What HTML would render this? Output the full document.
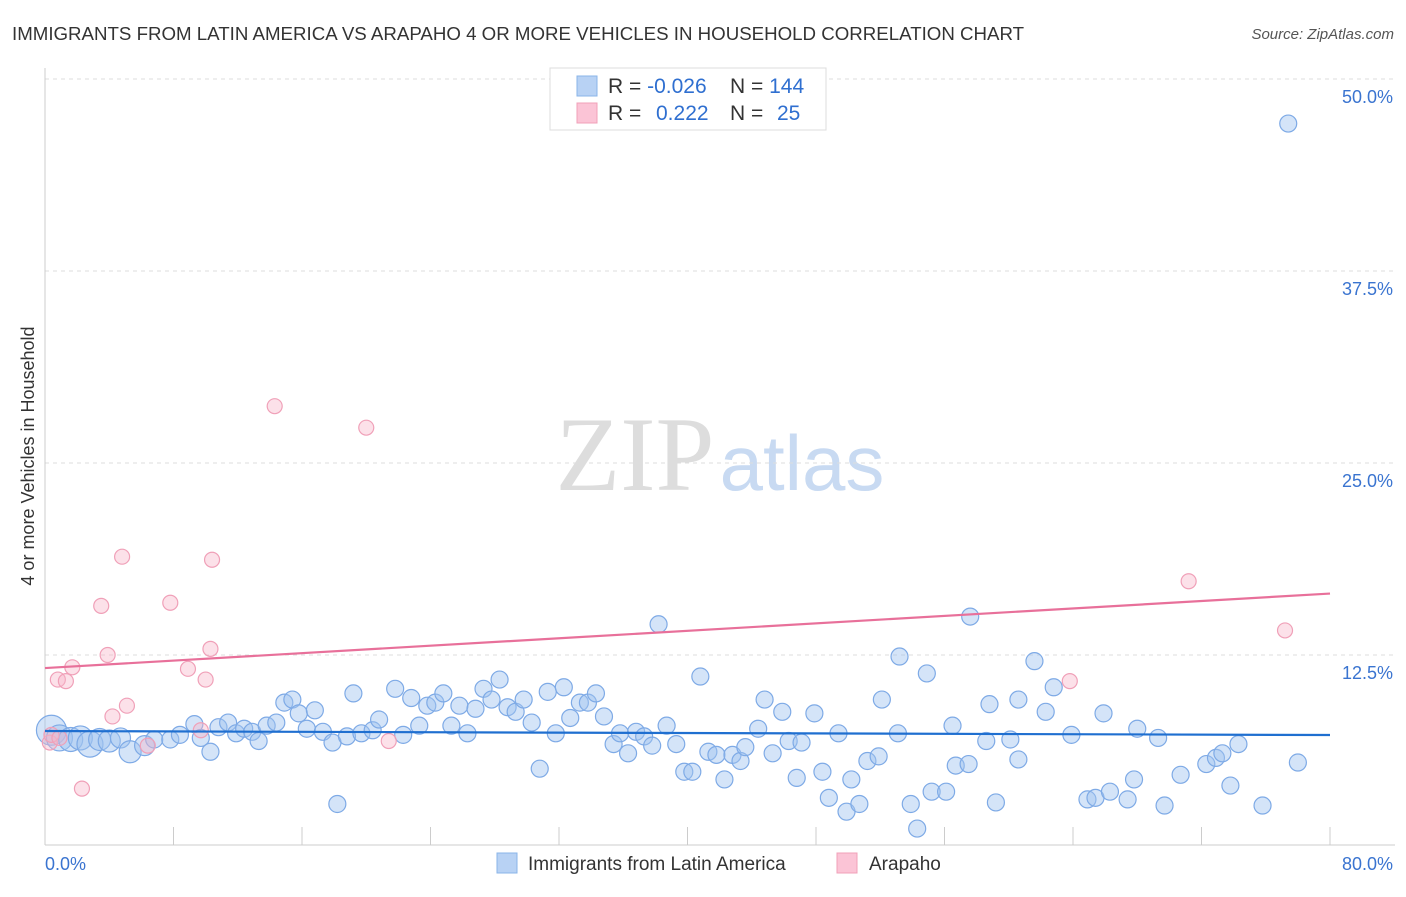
<!DOCTYPE html>
<html><head><meta charset="utf-8"><style>
body{margin:0;background:#fff;font-family:"Liberation Sans",sans-serif}
svg text{font-family:"Liberation Sans",sans-serif}
</style></head><body>
<svg id="c" width="1406" height="892" viewBox="0 0 1406 892">
<text x="12" y="40" font-size="18.7" fill="#333">IMMIGRANTS FROM LATIN AMERICA VS ARAPAHO 4 OR MORE VEHICLES IN HOUSEHOLD CORRELATION CHART</text>
<text x="1394" y="39" font-size="15" fill="#555" font-style="italic" text-anchor="end">Source: ZipAtlas.com</text>
<g>
<text x="635" y="490" font-size="106" fill="#ddd" text-anchor="middle" font-family="Liberation Serif" style="font-family:'Liberation Serif',serif">ZIP</text>
<text x="802" y="490" font-size="78" fill="#c8daf2" text-anchor="middle">atlas</text>
</g>
<g id="grid"></g>
<g id="axes"></g>
<g id="pts"></g>
<g id="trend"></g>
<text transform="translate(34,456) rotate(-90)" font-size="18" fill="#333" text-anchor="middle">4 or more Vehicles in Household</text>
<g>
<rect x="550" y="68" width="276" height="62" fill="#fff" stroke="#ddd"/>
<rect x="577" y="76" width="20" height="20" fill="#b8d2f4" stroke="#8ab4e8"/>
<rect x="577" y="103" width="20" height="20" fill="#fbc4d6" stroke="#f0a0b8"/>
<text x="608" y="93" font-size="21" fill="#333">R = <tspan fill="#2f6fd0">-0.026</tspan></text>
<text x="730" y="93" font-size="21" fill="#333">N = <tspan fill="#2f6fd0">144</tspan></text>
<text x="608" y="120" font-size="21" fill="#333">R = </text><text x="656" y="120" font-size="21" fill="#2f6fd0">0.222</text>
<text x="730" y="120" font-size="21" fill="#333">N = </text><text x="777" y="120" font-size="21" fill="#2f6fd0">25</text>
</g>
<g>
<rect x="497" y="853" width="20" height="20" fill="#b8d2f4" stroke="#8ab4e8"/>
<text x="528" y="870" font-size="19" fill="#333">Immigrants from Latin America</text>
<rect x="837" y="853" width="20" height="20" fill="#fbc4d6" stroke="#f0a0b8"/>
<text x="869" y="870" font-size="19" fill="#333">Arapaho</text>
</g>
</svg>
<script>
const yTicks=[12.5,25,37.5,50];
const yTickLabels=["12.5%","25.0%","37.5%","50.0%"];
const xTickVals=[0,8,16,24,32,40,48,56,64,72,80];
const xLabels=["0.0%","80.0%"];
const blueX=[0.4,0.9,1.6,2.2,2.8,3.4,4.0,4.7,5.3,6.2,6.8,7.8,8.4,9.3,9.7,10.3,10.8,11.4,11.9,12.4,12.9,13.3,13.8,14.4,14.9,15.4,15.8,16.3,16.8,17.3,17.9,18.2,18.8,19.2,19.7,20.4,20.8,21.8,22.3,22.8,23.3,23.8,24.3,24.8,25.3,25.8,26.3,26.8,27.3,27.8,28.3,28.8,29.3,29.8,30.3,30.8,31.3,31.8,32.3,32.7,33.3,33.8,34.3,34.8,35.4,35.8,36.3,36.8,37.3,37.8,38.2,38.7,39.3,39.8,40.3,40.8,41.3,41.8,42.3,42.8,43.3,43.6,44.4,44.8,45.3,45.9,46.3,46.8,47.1,47.9,48.4,48.8,49.4,49.9,50.2,50.7,51.2,51.9,52.1,53.1,53.2,53.9,54.3,54.9,55.2,56.1,56.5,56.7,57.5,57.6,58.6,58.8,59.2,60.1,60.6,60.6,61.6,62.3,62.8,63.9,64.9,65.4,65.9,66.3,67.4,67.8,68.0,69.3,69.7,70.7,72.3,72.9,73.3,73.8,74.3,75.8,77.4,78.0];
const blueY=[7.6,7.1,7.0,7.1,6.7,7.0,6.9,7.1,6.2,6.6,7.0,7.0,7.3,8.0,7.1,6.2,7.8,8.1,7.4,7.7,7.5,6.9,7.9,8.1,9.4,9.6,8.7,7.7,8.9,7.5,6.8,2.8,7.2,10.0,7.4,7.6,8.3,10.3,7.3,9.7,7.9,9.2,9.4,10.0,7.9,9.2,7.4,9.0,10.3,9.6,10.9,9.1,8.8,9.6,8.1,5.1,10.1,7.4,10.4,8.4,9.4,9.4,10.0,8.5,6.7,7.4,6.1,7.5,7.2,6.6,14.5,7.9,6.7,4.9,4.9,11.1,6.2,6.0,4.4,6.0,5.6,6.5,7.7,9.6,6.1,8.8,6.9,4.5,6.8,8.7,4.9,3.2,7.4,2.3,4.4,2.8,5.6,5.9,9.6,7.4,12.4,2.8,1.2,11.3,3.6,3.6,7.9,5.3,5.4,15.0,6.9,9.3,2.9,7.0,5.7,9.6,12.1,8.8,10.4,7.3,3.1,3.2,8.7,3.6,3.1,4.4,7.7,7.1,2.7,4.7,5.4,5.8,6.1,4.0,6.7,2.7,47.1,5.5];
const blueSize=[15,13,12,12,13,11,11,10,11,10];
const pinkX=[0.3,0.4,0.9,0.8,1.3,1.7,2.3,3.5,3.9,4.2,4.8,5.1,6.4,7.8,8.9,9.7,10.0,10.3,10.4,14.3,20.0,21.4,63.8,71.2,77.2];
const pinkY=[6.8,7.3,7.1,10.9,10.8,11.7,3.8,15.7,12.5,8.5,18.9,9.2,6.6,15.9,11.6,7.6,10.9,12.9,18.7,28.7,27.3,6.9,10.8,17.3,14.1];
const blueTrend=[7.55,7.29];
const pinkTrend=[11.65,16.5];
const NS="http://www.w3.org/2000/svg";
const X=v=>45+v/80*1285, Y=v=>847-v/12.5*192;
function mk(tag,at,parent){const e=document.createElementNS(NS,tag);for(const k in at)e.setAttribute(k,at[k]);document.getElementById(parent).appendChild(e);return e;}
yTicks.forEach((t,i)=>{
 const l=mk('line',{x1:45,x2:1395,y1:Y(t),y2:Y(t),stroke:'#ddd','stroke-dasharray':'4,4'},'grid');
 
 
 const tx=mk('text',{x:1393,y:Y(t)+24,'font-size':18,fill:'#3a74d0','text-anchor':'end'},'axes');
 tx.textContent=yTickLabels[i];
 
 
});
const ax=mk('line',{x1:45,x2:45,y1:68,y2:845,stroke:'#ccc'},'axes');


const bx=mk('line',{x1:45,x2:1395,y1:845,y2:845,stroke:'#ccc'},'axes');


xTickVals.forEach(v=>{
 const t=mk('line',{x1:X(v),x2:X(v),y1:827,y2:845,stroke:'#ccc'},'axes');
 
 
});
[[0,'start',45],[80,'end',1393]].forEach((d,i)=>{
 const t=mk('text',{x:i?1393:45,y:870,'font-size':18,fill:'#3a74d0','text-anchor':d[1]},'axes');
 t.textContent=xLabels[i];
 
 
});
blueX.forEach((v,i)=>{
 const c=mk('circle',{cx:X(v),cy:Y(blueY[i]),r:blueSize[i]||8.5,fill:'rgba(160,196,240,0.45)',stroke:'#7eaae6','stroke-width':1.2},'pts');
 
 
});
pinkX.forEach((v,i)=>{
 const c=mk('circle',{cx:X(v),cy:Y(pinkY[i]),r:7.5,fill:'rgba(248,180,200,0.4)',stroke:'#f0a0b8','stroke-width':1.2},'pts');
 
 
});
const bl=mk('line',{x1:X(0),x2:X(80),y1:Y(blueTrend[0]),y2:Y(blueTrend[1]),stroke:'#1f6fd0','stroke-width':2.2},'trend');


const pl=mk('line',{x1:X(0),x2:X(80),y1:Y(pinkTrend[0]),y2:Y(pinkTrend[1]),stroke:'#e8709a','stroke-width':2.2},'trend');


</script>
</body></html>
